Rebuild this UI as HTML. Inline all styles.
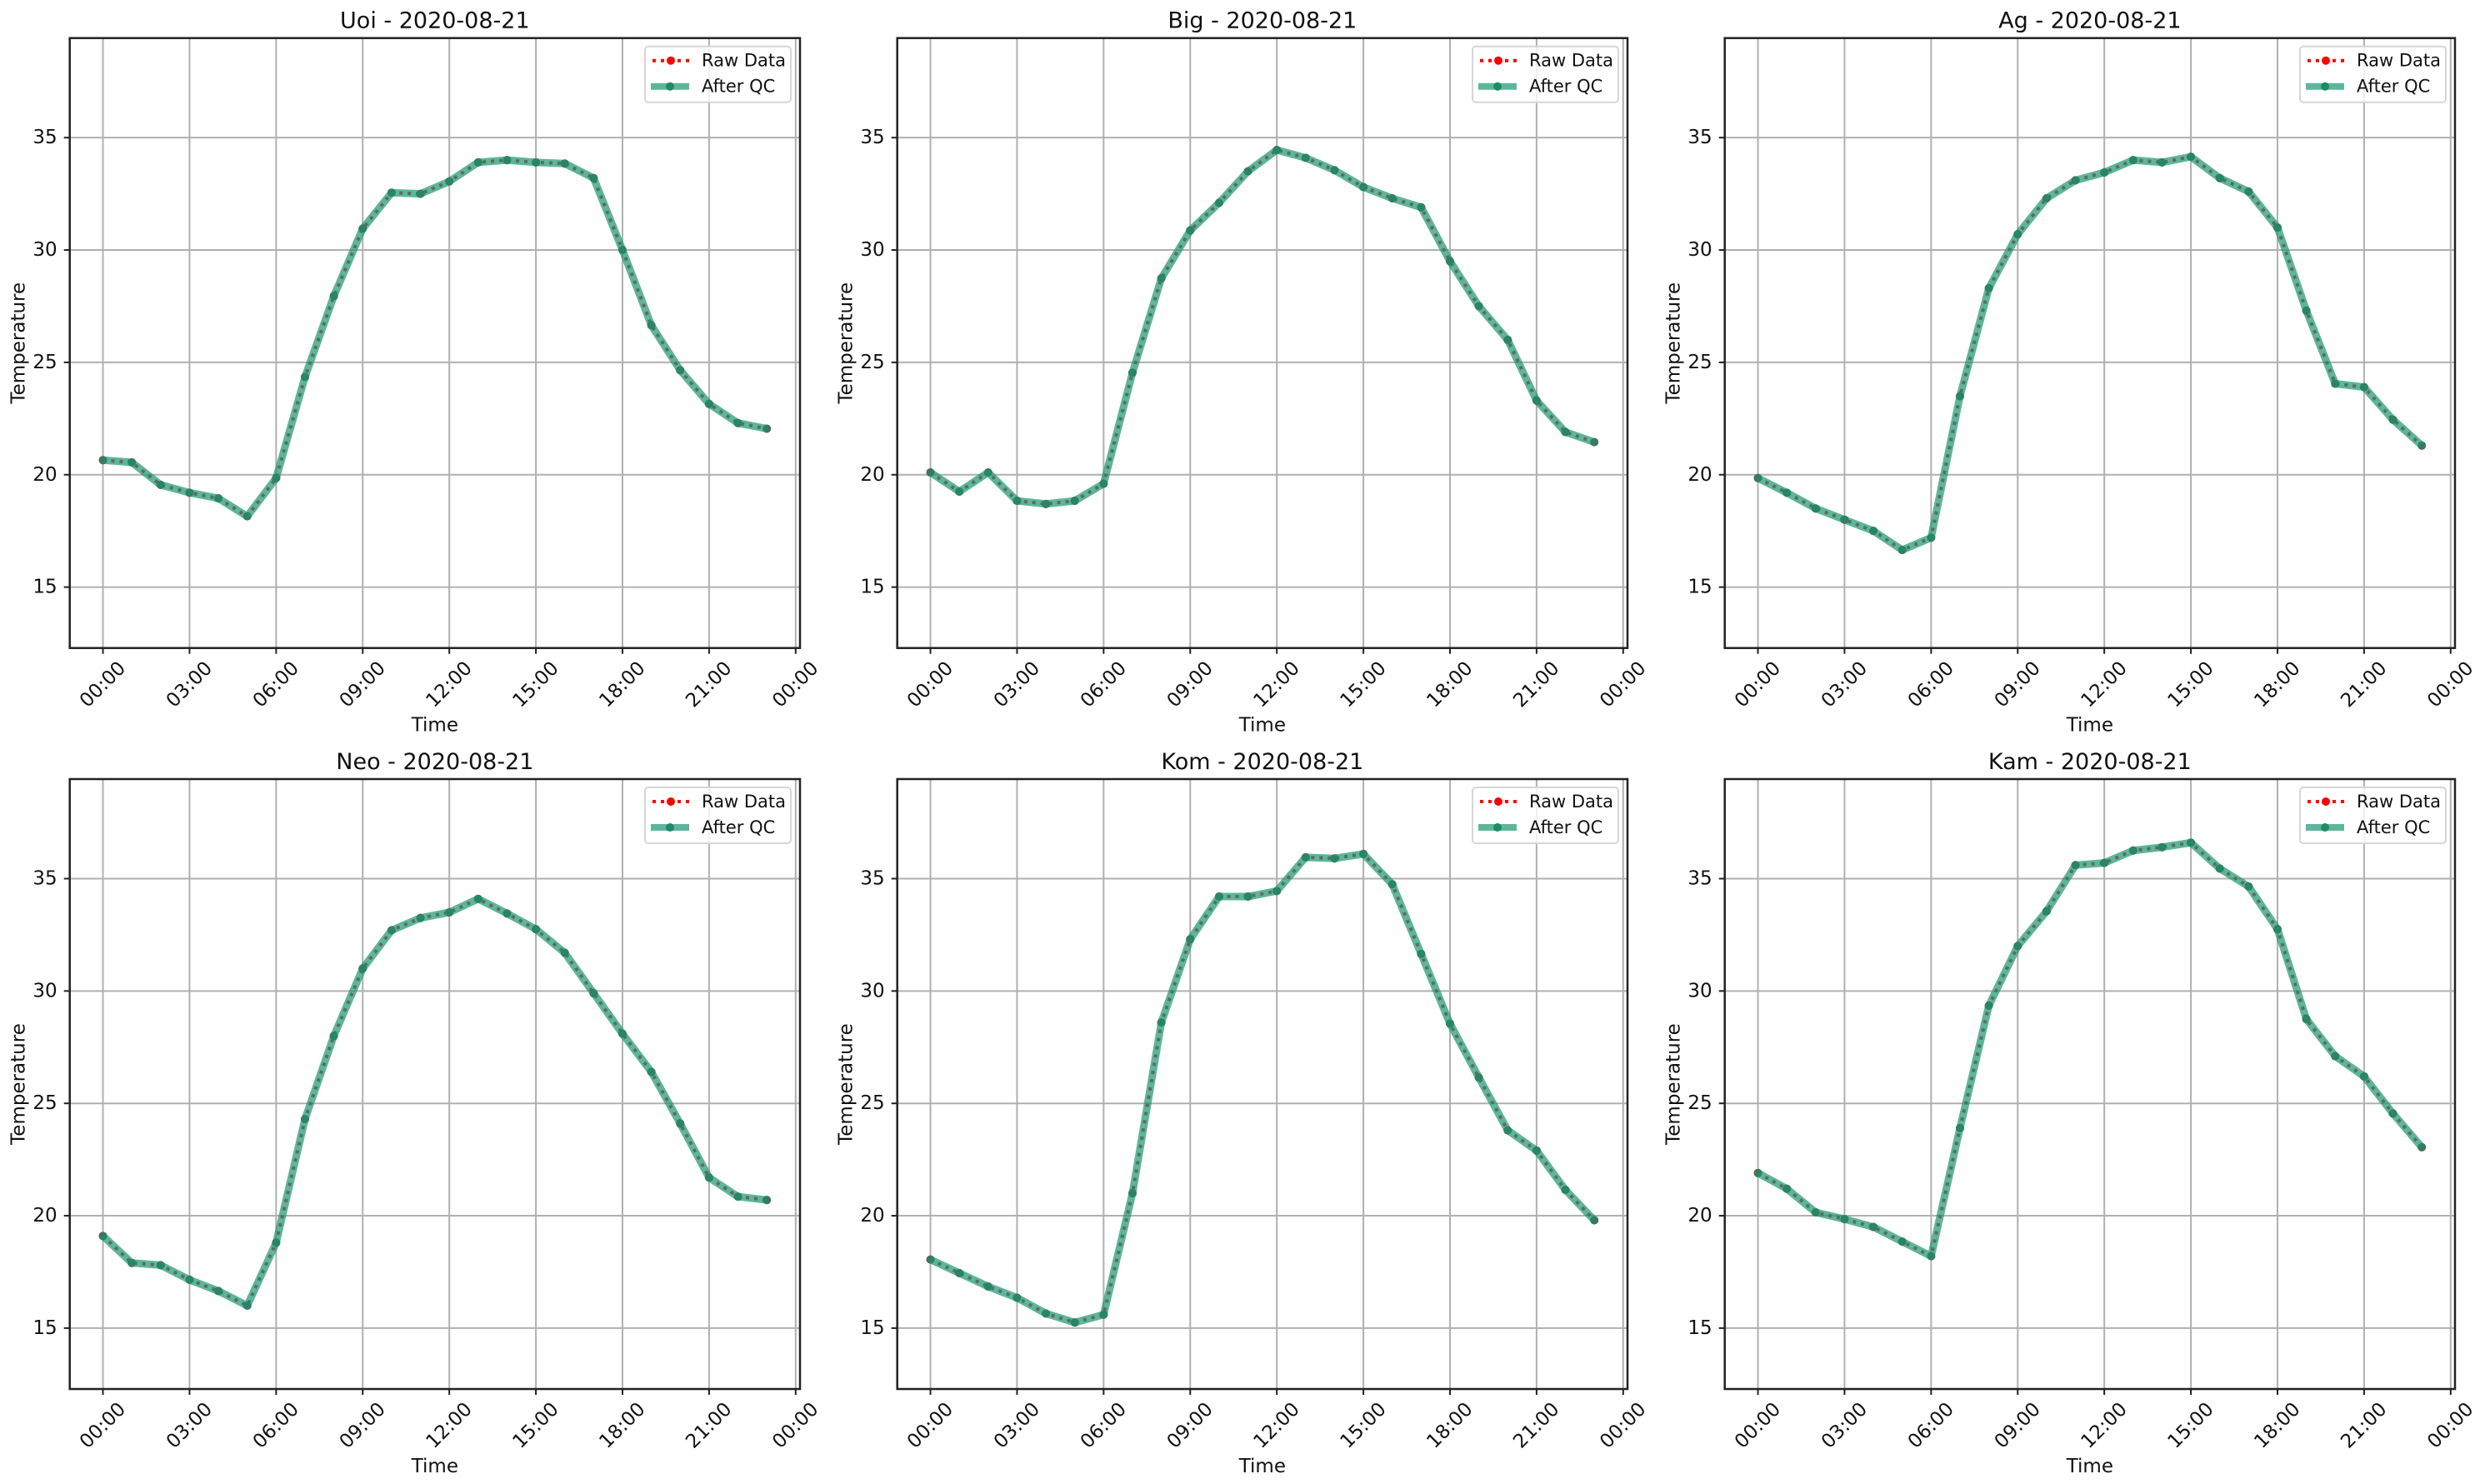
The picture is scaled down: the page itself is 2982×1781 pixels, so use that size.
<!DOCTYPE html>
<html><head><meta charset="utf-8">
<style>
html,body{margin:0;padding:0;background:#fff;}
svg{display:block;font-family:"DejaVu Sans","Liberation Sans",sans-serif;}
</style></head>
<body>
<svg id="fig" width="2982" height="1781" viewBox="0 0 2982 1781" xmlns="http://www.w3.org/2000/svg"></svg>
<script>
const hours = [0,1,2,3,4,5,6,7,8,9,10,11,12,13,14,15,16,17,18,19,20,21,22,23];
const stationNames = ["Uoi","Big","Ag","Neo","Kom","Kam"];
const dateLabel = "2020-08-21";
const uoiValues = [20.65,20.55,19.55,19.2,18.95,18.15,19.85,24.35,27.95,30.95,32.55,32.5,33.05,33.9,34.0,33.9,33.85,33.2,30.0,26.65,24.65,23.15,22.3,22.05];
const bigValues = [20.1,19.25,20.1,18.84,18.7,18.84,19.6,24.54,28.74,30.87,32.1,33.5,34.45,34.1,33.55,32.8,32.3,31.9,29.5,27.5,26.0,23.3,21.9,21.45];
const agValues = [19.85,19.2,18.5,18.0,17.5,16.65,17.2,23.5,28.3,30.7,32.3,33.1,33.45,34.0,33.9,34.15,33.2,32.6,31.0,27.3,24.05,23.9,22.45,21.3];
const neoValues = [19.1,17.9,17.8,17.15,16.65,16.0,18.8,24.3,28.0,31.0,32.7,33.25,33.5,34.1,33.45,32.75,31.7,29.9,28.1,26.4,24.1,21.7,20.85,20.7];
const komValues = [18.05,17.45,16.85,16.35,15.65,15.25,15.6,21.0,28.6,32.3,34.2,34.2,34.45,35.95,35.9,36.1,34.75,31.65,28.55,26.15,23.8,22.9,21.15,19.8];
const kamValues = [21.9,21.2,20.15,19.85,19.5,18.85,18.2,23.9,29.35,32.0,33.55,35.6,35.7,36.25,36.4,36.6,35.45,34.65,32.75,28.75,27.1,26.2,24.55,23.05];
const allSeries = [uoiValues,bigValues,agValues,neoValues,komValues,kamValues];
const xTickHours = [0,3,6,9,12,15,18,21,24];
const xTickLabels = ["00:00","03:00","06:00","09:00","12:00","15:00","18:00","21:00","00:00"];
const yTicks = [15,20,25,30,35];
const yTickLabels = ["15","20","25","30","35"];

const NS="http://www.w3.org/2000/svg";
const svg=document.getElementById('fig');
function mk(tag,attrs,parent){const e=document.createElementNS(NS,tag);for(const k in attrs)e.setAttribute(k,attrs[k]);(parent||svg).appendChild(e);return e;}

const AX_W=876.3, AX_H=732;
const lefts=[83.7,1076.7,2069.7], tops=[45.7,935];
const XMIN=-1.15, XMAX=24.15, YMIN=12.29, YMAX=39.43;

allSeries.forEach((vals,i)=>{
  const L=lefts[i%3], T=tops[Math.floor(i/3)];
  const xs=h=>L+(h-XMIN)/(XMAX-XMIN)*AX_W;
  const ys=v=>T+AX_H-(v-YMIN)/(YMAX-YMIN)*AX_H;
  const g=mk('g',{});
  
  
  xTickHours.forEach((h,k)=>{
    const gl=mk('line',{x1:xs(h),x2:xs(h),y1:T,y2:T+AX_H,stroke:'#b0b0b0','stroke-width':2},g);
    
    
    const tk=mk('line',{x1:xs(h),x2:xs(h),y1:T+AX_H,y2:T+AX_H+7,stroke:'#222','stroke-width':2},g);
    
    
    const cx=xs(h), cy=T+AX_H+44;
    const t=mk('text',{x:cx,y:cy,'font-size':23,'text-anchor':'middle','dominant-baseline':'central',transform:`rotate(-45 ${cx} ${cy})`,fill:'#111'},g);
    t.textContent=xTickLabels[k];
    
    
  });
  yTicks.forEach((v,k)=>{
    const gl=mk('line',{x1:L,x2:L+AX_W,y1:ys(v),y2:ys(v),stroke:'#b0b0b0','stroke-width':2},g);
    
    
    const tk=mk('line',{x1:L-7,x2:L,y1:ys(v),y2:ys(v),stroke:'#222','stroke-width':2},g);
    
    
    const t=mk('text',{x:L-15,y:ys(v),'font-size':23,'text-anchor':'end','dominant-baseline':'central',fill:'#111'},g);
    t.textContent=yTickLabels[k];
    
    
  });
  const pts=hours.map((h,k)=>xs(h)+','+ys(vals[k])).join(' ');
  const raw=mk('polyline',{points:pts,fill:'none',stroke:'#ff0000','stroke-width':4,'stroke-dasharray':'4 6'},g);
  
  
  hours.forEach((h,k)=>{
    const c=mk('circle',{cx:xs(h),cy:ys(vals[k]),r:5,fill:'#ff0000'},g);
    
    
  });
  const qc=mk('polyline',{points:pts,fill:'none',stroke:'#1f9a76','stroke-width':9,'stroke-opacity':0.72,'stroke-linejoin':'round'},g);
  
  
  hours.forEach((h,k)=>{
    const c=mk('circle',{cx:xs(h),cy:ys(vals[k]),r:5,fill:'#1f8a68','fill-opacity':0.85},g);
    
    
  });
  const fr=mk('rect',{x:L,y:T,width:AX_W,height:AX_H,fill:'none',stroke:'#222','stroke-width':2.5},g);
  
  
  const ti=mk('text',{x:L+AX_W/2,y:T-12,'font-size':27,'text-anchor':'middle',fill:'#111'},g);
  ti.textContent=stationNames[i]+' - '+dateLabel;
  
  
  const xl=mk('text',{x:L+AX_W/2,y:T+AX_H+93,'font-size':23,'text-anchor':'middle','dominant-baseline':'central',fill:'#111'},g);
  xl.textContent='Time';
  
  
  const yx=L-61, yy=T+AX_H/2;
  const yl=mk('text',{x:yx,y:yy,'font-size':23,'text-anchor':'middle','dominant-baseline':'central',transform:`rotate(-90 ${yx} ${yy})`,fill:'#111'},g);
  yl.textContent='Temperature';
  
  
  const lg=mk('g',{},g);
  
  
  const bx=L+AX_W-186, by=T+10;
  mk('rect',{x:bx,y:by,width:175,height:67,rx:4,fill:'#fff','fill-opacity':0.8,stroke:'#d6d6d6','stroke-width':2},lg);
  const r1=mk('g',{},lg);
  
  
  mk('line',{x1:bx+9,x2:bx+53,y1:by+17,y2:by+17,stroke:'#ff0000','stroke-width':4,'stroke-dasharray':'4 6'},r1);
  mk('circle',{cx:bx+31,cy:by+17,r:5,fill:'#ff0000'},r1);
  const t1=mk('text',{x:bx+68,y:by+17,'font-size':21,'dominant-baseline':'central',fill:'#111'},r1);
  t1.textContent='Raw Data';
  const r2=mk('g',{},lg);
  
  
  mk('line',{x1:bx+7,x2:bx+53,y1:by+48,y2:by+48,stroke:'#1f9a76','stroke-width':8,'stroke-opacity':0.72},r2);
  mk('circle',{cx:bx+30,cy:by+48,r:5,fill:'#1f8a68'},r2);
  const t2=mk('text',{x:bx+68,y:by+48,'font-size':21,'dominant-baseline':'central',fill:'#111'},r2);
  t2.textContent='After QC';
});
</script>
</body></html>
